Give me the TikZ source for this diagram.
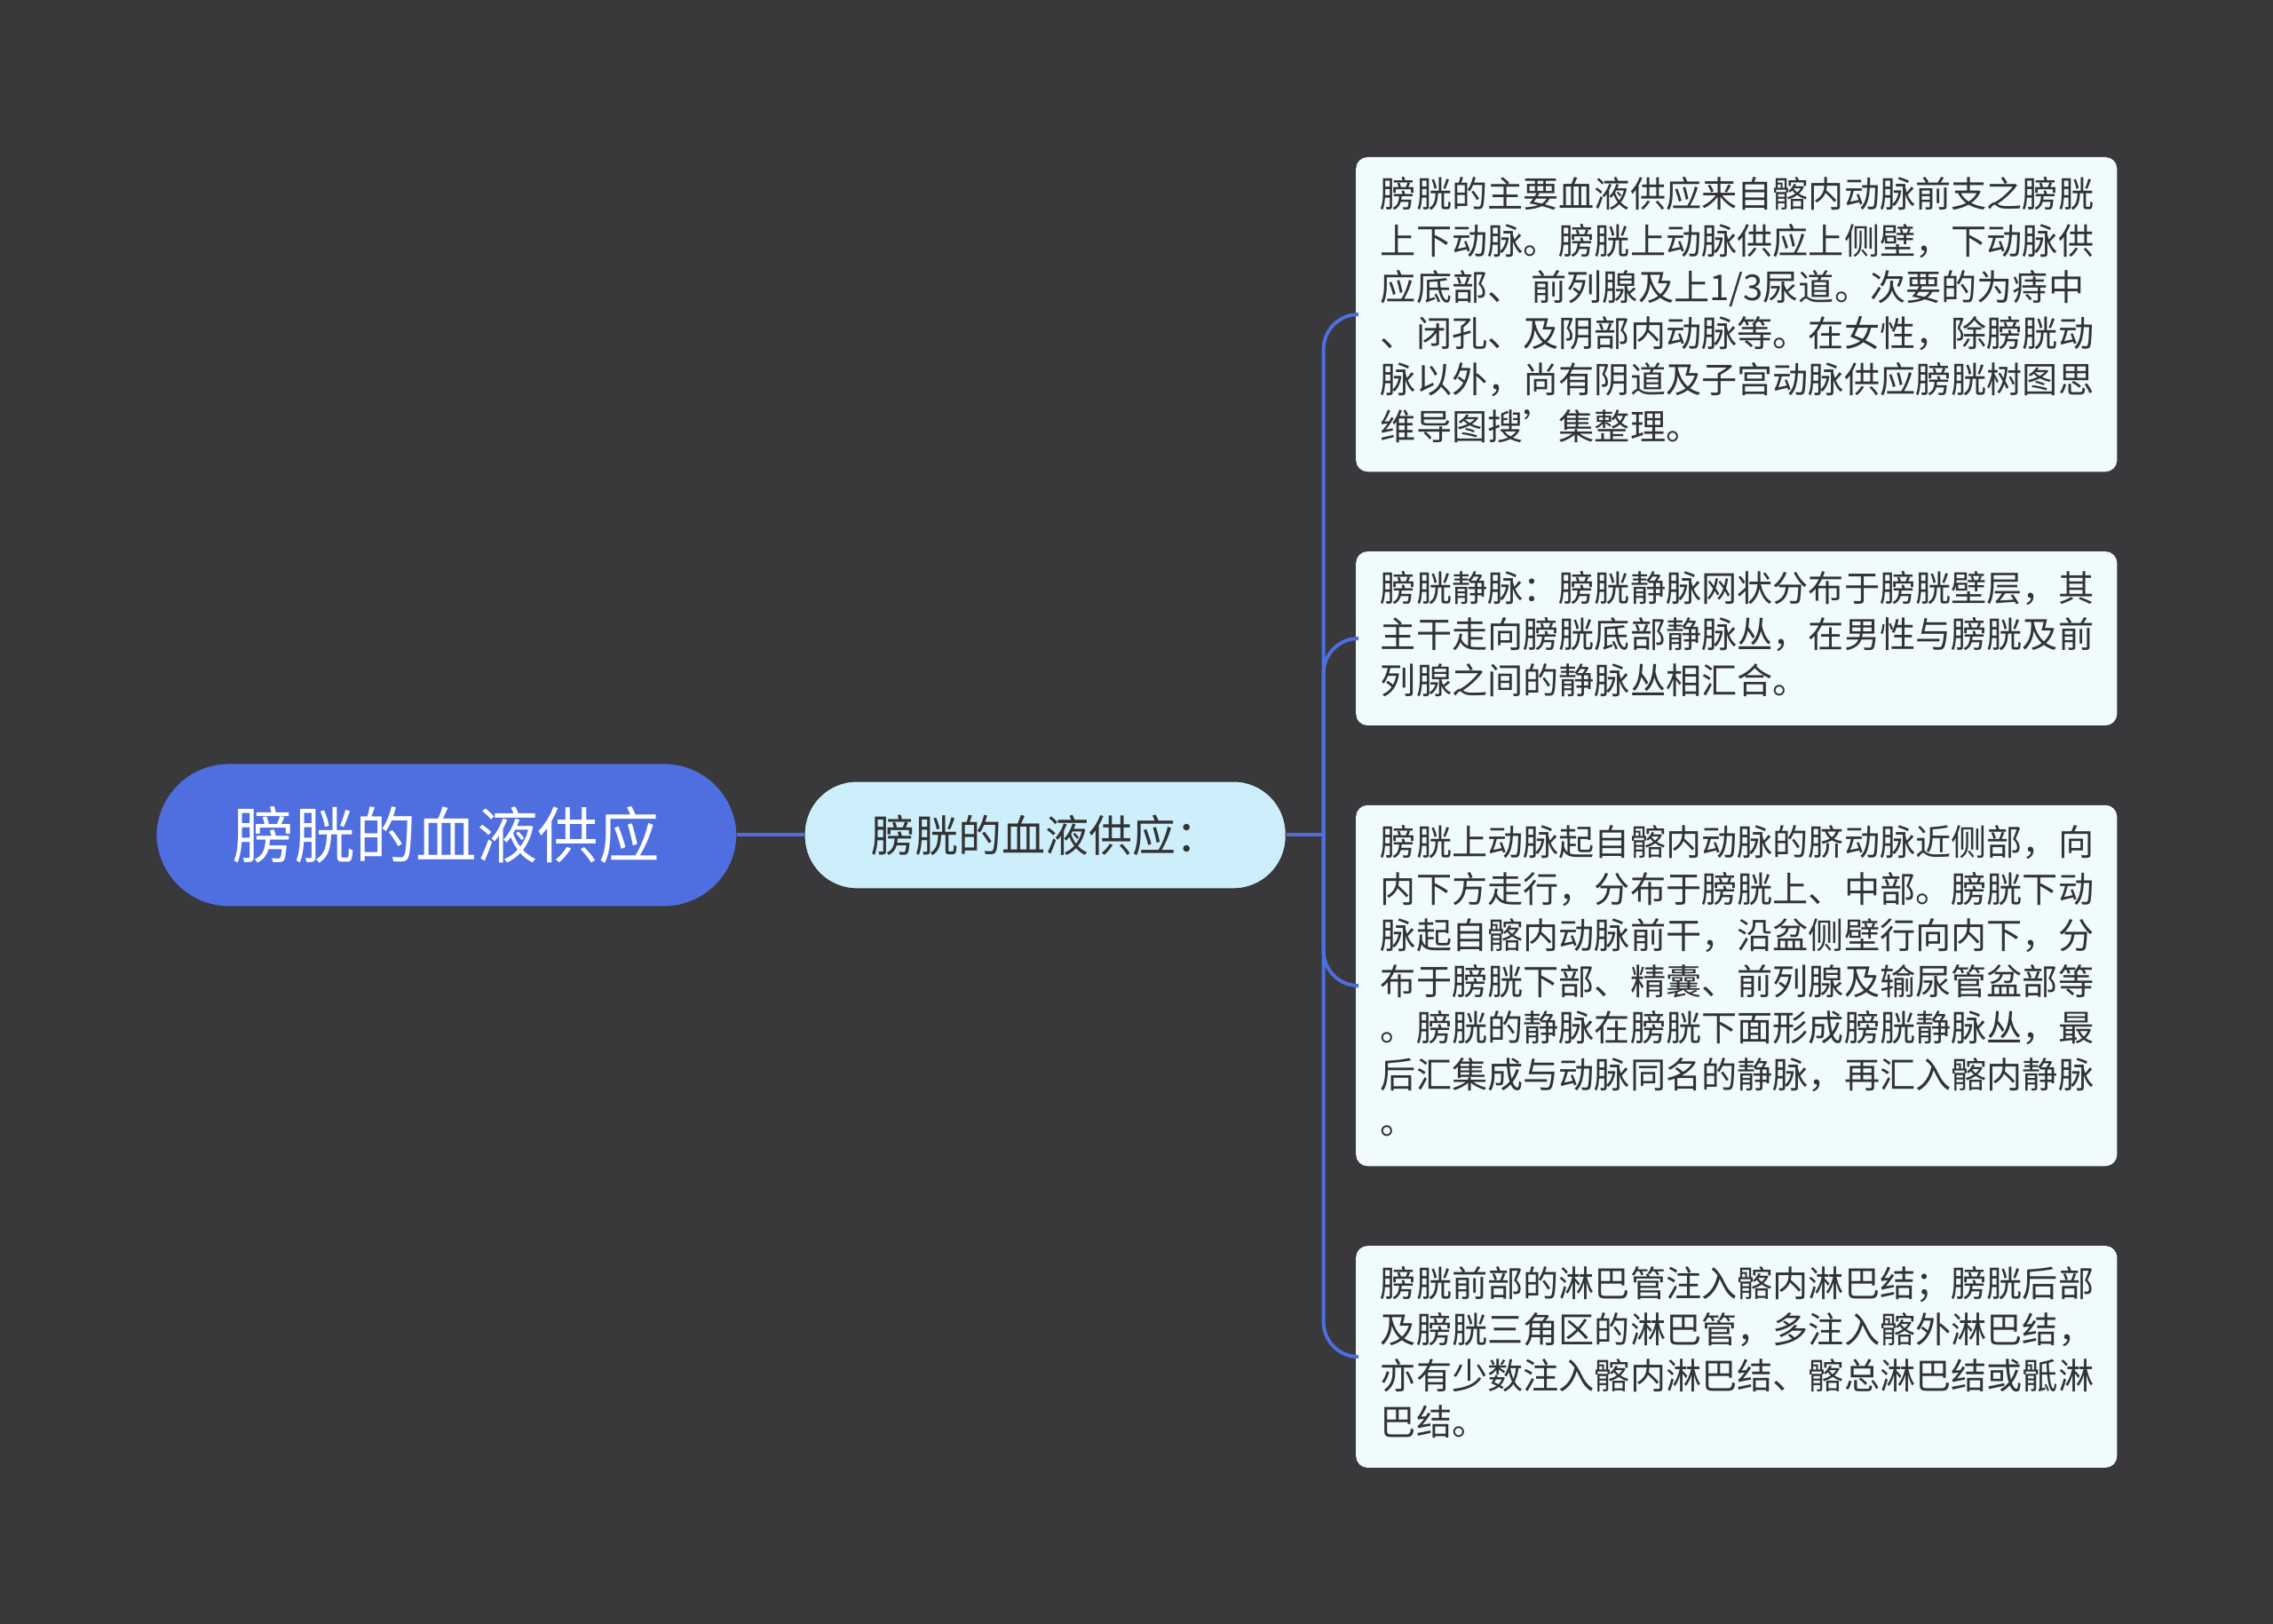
\documentclass[tikz,border=0pt]{standalone}
\usepackage{fontspec}
\setmainfont{Noto Sans CJK SC}
\begin{document}
\begin{tikzpicture}[x=0.5pt,y=-0.5pt,
  leaf/.style={draw=none,fill=leafc,rounded corners=4pt,align=left,anchor=north west,inner sep=0pt,font=\fontsize{12.3pt}{16pt}\selectfont,text=txt,minimum width=262.5pt},
  conn/.style={draw=linec,line width=1.2pt}]
\definecolor{bg}{HTML}{39383A}
\definecolor{rootc}{HTML}{4F6FE0}
\definecolor{midc}{HTML}{CDEFFC}
\definecolor{leafc}{HTML}{F0FBFE}
\definecolor{linec}{HTML}{4F6FE0}
\definecolor{txt}{HTML}{333333}
\fill[bg] (0,0) rectangle (1568,1120);
\useasboundingbox (0,0) rectangle (1568,1120);
\node[fill=rootc,rounded corners=25pt,minimum width=200pt,minimum height=49pt,text=white,font=\fontsize{21pt}{24pt}\selectfont] (root) at (308,576) {膀胱的血液供应};
\node[fill=midc,draw=txt,line width=0.3pt,rounded corners=18pt,minimum width=166pt,minimum height=37pt,text=txt,font=\fontsize{15pt}{18pt}\selectfont] (mid) at (721,576) {膀胱的血液供应：};
\draw[conn] (root.east) -- (mid.west);
\node[leaf,minimum height=108.5pt] (l1) at (935,108) {\hspace{0.5pt}\begin{tabular}{@{}l@{}}膀胱的主要血液供应来自髂内动脉前支之膀胱\\上下动脉。膀胱上动脉供应上侧壁，下动脉供\\应底部、 前列腺及上1/3尿道。次要的为痔中\\、闭孔、及阴部内动脉等。在女性，除膀胱动\\脉以外，尚有阴道及子宫动脉供应膀胱树图思\\维导图搜{\char"27}集整理。\end{tabular}};
\node[leaf,minimum height=60pt] (l2) at (935,380) {\hspace{0.5pt}\begin{tabular}{@{}l@{}}膀胱静脉：膀胱静脉网状分布于膀胱壁层，其\\主干走向膀胱底部静脉丛，在男性与膀胱及前\\列腺之间的静脉丛相汇合。\end{tabular}};
\node[leaf,minimum height=124.5pt] (l3) at (935,555) {\hspace{0.5pt}\begin{tabular}{@{}l@{}}膀胱上动脉起自髂内动脉的脐动脉近侧部，向\\内下方走行，分布于膀胱上、中部。膀胱下动\\脉起自髂内动脉前干，沿盆侧壁行向内下，分\\布于膀胱下部、精囊、前列腺及输尿管盆部等\\。膀胱的静脉在膀胱下面形成膀胱静脉丛，最\\后汇集成与动脉同名的静脉，再汇入髂内静脉\\。\end{tabular}};
\node[leaf,minimum height=76.5pt] (l4) at (935,859) {\hspace{0.5pt}\begin{tabular}{@{}l@{}}膀胱前部的淋巴管注入髂内淋巴结；膀胱后部\\及膀胱三角区的淋巴管，多注入髂外淋巴结，\\亦有少数注入髂内淋巴结、髂总淋巴结或骶淋\\巴结。\end{tabular}};
\coordinate (j) at (913,576);
\draw[conn] (mid.east) -- (j);
\foreach \n in {l1,l2,l3,l4}{
  \draw[conn,rounded corners=12pt] (j) |- (\n.west);
}
\end{tikzpicture}
\end{document}
